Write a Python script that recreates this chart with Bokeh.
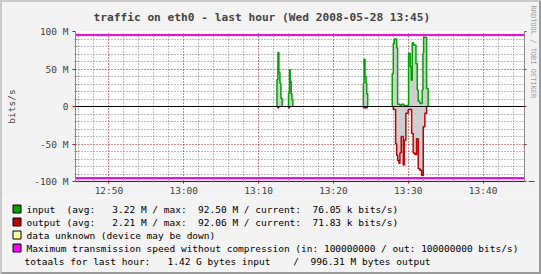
import re
from bokeh.plotting import figure
from bokeh.layouts import column
from bokeh.models import (Range1d, LinearAxis, FixedTicker, Grid, Span, Title,
                          Arrow, NormalHead, InlineStyleSheet)
from bokeh.core.properties import value
from bokeh.embed import file_html
from bokeh.resources import INLINE

# ---------------- data ----------------
title_text = "traffic on eth0 - last hour (Wed 2008-05-28 13:45)"
watermark = "RRDTOOL / TOBI OETIKER"
y_label = "bits/s"

# time axis in minutes after 12:00
x_start_min = 45.5333
x_end_min = 105.5333
x_ticks = [50, 60, 70, 80, 90, 100]
x_tick_labels = ["12:50", "13:00", "13:10", "13:20", "13:30", "13:40"]
x_minor = [m for m in range(46, 106, 2) if m % 10 != 0]

# value axis in M (base 1024)
y_ticks = [-100, -50, 0, 50, 100]
y_tick_labels = ["-100 M", "-50 M", "0", "50 M", "100 M"]
y_minor = [v for v in range(-90, 100, 10) if v % 50 != 0]

# input traffic (M bits/s), step values starting at in_t
in_t = [72.45, 72.58, 72.71, 72.85, 72.98, 73.15,
        74.00, 74.13, 74.22, 74.36, 74.45, 74.58,
        84.00, 84.09, 84.22, 84.36, 84.45, 84.58,
        87.86, 88.00, 88.13, 88.45, 88.58, 88.89, 89.11, 89.41,
        90.04, 90.26, 90.40, 90.53, 90.72, 91.03, 91.20, 91.33, 91.56,
        91.86, 91.96, 92.05, 92.45, 92.66]
in_v = [36, 72, 45.5, 31, 11, 0,
        18, 49.5, 33, 17, 9, 0,
        31, 63, 40, 31, 17, 0,
        44, 84, 90, 78, 3, 1.6, 3, 1.5,
        71, 53, 35, 85, 82, 57, 22, 7, 4,
        22, 71, 92.5, 24, 0]

# output traffic (M bits/s), drawn below zero
out_t = [72.56, 72.69, 74.00, 74.13, 84.00, 84.53,
         88.00, 88.31, 88.45, 88.58, 88.76, 88.89, 89.06, 89.33, 89.46, 89.68, 89.99,
         90.45, 90.66, 90.89, 91.11, 91.33, 91.56, 91.78, 92.00, 92.22, 92.45]
out_v = [1.5, 0, 1.5, 0, 1.5, 0,
         4, 49.5, 65, 72, 75.5, 62, 40, 78, 45, 9, 4,
         36, 62, 64, 43, 83, 85, 92.06, 27, 9, 0]

max_speed_bits = 100000000
max_speed_m = max_speed_bits / 1048576.0

legend_colors = ["#00a000", "#c00000", "#ffffa0", "#ff00ff"]
legend_texts = [
    "input  (avg:   3.22 M / max:  92.50 M / current:  76.05 k bits/s)",
    "output (avg:   2.21 M / max:  92.06 M / current:  71.83 k bits/s)",
    "data unknown (device may be down)",
    "Maximum transmission speed without compression (in: 100000000 / out: 100000000 bits/s)",
]
totals_text = "totaals for last hour:   1.42 G bytes input    /  996.31 M bytes output"

# ---------------- styles ----------------
FONT = "DejaVu Sans Mono"
GREEN = "#00a000"
RED = "#c00000"
FILL = "#cfcfcf"
BACK = "#f3f3f3"
W = 541
H_MAIN, H_LEG = 198, 76
FL, FR, FT, FB = 75, 525, 31, 181   # frame edges in the main figure


def keep_spaces(s):
    # SVG collapses runs of spaces; keep the monospaced column layout
    return re.sub(r" {2,}", lambda m: " " + "\u00a0" * (len(m.group()) - 1), s)


css_top = InlineStyleSheet(css="""
:host { position: relative; }
:host::after { content: ""; position: absolute; left: 0; top: 0; right: 0; bottom: 0;
  box-sizing: border-box; pointer-events: none; z-index: 10;
  border-left: 2px solid #cbcbcb; border-top: 2px solid #cbcbcb;
  border-right: 2px solid #9a9a9a; }
""")
css_bottom = InlineStyleSheet(css="""
:host { position: relative; }
:host::after { content: ""; position: absolute; left: 0; top: 0; right: 0; bottom: 0;
  box-sizing: border-box; pointer-events: none; z-index: 10;
  border-left: 2px solid #cbcbcb;
  border-right: 2px solid #9a9a9a; border-bottom: 2px solid #9a9a9a; }
""")

fig = figure(width=W, height=H_MAIN,
             x_range=Range1d(x_start_min, x_end_min), y_range=Range1d(-100, 100),
             output_backend="svg", toolbar_location=None,
             x_axis_type=None, y_axis_type=None,
             min_border_left=FL, min_border_right=W - FR, min_border_top=FT,
             min_border_bottom=H_MAIN - FB,
             background_fill_color="white", border_fill_color=BACK,
             outline_line_color=None, stylesheets=[css_top], frame_align=False)

yt = FixedTicker(ticks=y_ticks, minor_ticks=y_minor)
xt = FixedTicker(ticks=x_ticks, minor_ticks=x_minor)

# grids
fig.add_layout(Grid(dimension=1, ticker=yt, grid_line_color="#a02020", grid_line_dash="1 2",
                    minor_grid_line_color="#808080", minor_grid_line_dash="1 2"))
fig.add_layout(Grid(dimension=0, ticker=xt, grid_line_color="#a02020", grid_line_dash="1 2",
                    minor_grid_line_color="#808080", minor_grid_line_dash="1 2"))

# axes
yaxis = LinearAxis(ticker=yt, major_label_overrides=dict(zip(y_ticks, y_tick_labels)),
                   axis_label=y_label, axis_label_standoff=14,
                   axis_label_text_font=FONT, axis_label_text_font_style="normal",
                   axis_label_text_font_size="9.5px",
                   major_label_text_font=FONT, major_label_text_font_size="9.5px",
                   major_label_standoff=4, axis_line_color="#8a8a8a",
                   major_tick_out=3, major_tick_in=0, major_tick_line_color="#a02020",
                   minor_tick_out=1, minor_tick_in=2, minor_tick_line_color="#8a8a8a")
fig.add_layout(yaxis, "left")

xaxis = LinearAxis(ticker=xt, major_label_overrides=dict(zip(x_ticks, x_tick_labels)),
                   major_label_text_font=FONT, major_label_text_font_size="9.5px",
                   major_label_standoff=1, axis_line_color="#402020",
                   major_tick_out=2, major_tick_in=0, major_tick_line_color="#a02020",
                   minor_tick_out=1, minor_tick_in=2, minor_tick_line_color="#8a8a8a")
fig.add_layout(xaxis, "below")

raxis = LinearAxis(ticker=FixedTicker(ticks=y_ticks, minor_ticks=[]),
                   major_label_overrides={v: "" for v in y_ticks}, major_label_standoff=0,
                   axis_line_color="#8a8a8a", major_tick_out=2, major_tick_in=0,
                   major_tick_line_color="#a02020", minor_tick_out=0, minor_tick_in=0)
fig.add_layout(raxis, "right")


def split_runs(t, v):
    runs, xs, ys = [], [], []
    for ti, vi in zip(t, v):
        if not xs:
            if vi == 0:
                continue
            xs, ys = [ti], [0]
        xs.append(ti)
        ys.append(vi)
        if vi == 0:
            runs.append((xs, ys))
            xs, ys = [], []
    if xs:
        runs.append((xs, ys))
    return runs


# areas and lines
fig.varea_step(x=in_t, y1=[0] * len(in_v), y2=in_v, step_mode="after", fill_color=FILL)
fig.varea_step(x=out_t, y1=[-v for v in out_v], y2=[0] * len(out_v), step_mode="after",
               fill_color=FILL)
for xs, ys in split_runs(in_t, in_v):
    fig.step(x=xs, y=ys, mode="after", line_color=GREEN, line_width=1.5)
for xs, ys in split_runs(out_t, out_v):
    fig.step(x=xs, y=[-v for v in ys], mode="after", line_color=RED, line_width=1.5)

fig.add_layout(Span(location=0, dimension="width", line_color="black", line_width=1))
fig.add_layout(Span(location=max_speed_m, dimension="width", line_color="#ff00ff", line_width=2))
fig.add_layout(Span(location=-max_speed_m, dimension="width", line_color="#ff00ff", line_width=2))

fig.add_layout(Arrow(end=NormalHead(size=6, fill_color=None, line_color="red", line_width=1),
                     x_start=x_end_min, y_start=-100, x_end=x_end_min + 1.35, y_end=-100,
                     line_color="red", line_width=1))

# title and watermark
fig.add_layout(Title(text=title_text, text_font=FONT, text_font_size="11.2px",
                     text_font_style="bold", align="left", offset=18, standoff=15), "above")
fig.add_layout(Title(text=watermark, text_font=FONT, text_font_size="7px",
                     text_font_style="normal", text_color="#a0a0a0", align="left",
                     offset=-26, standoff=5), "right")

# ---------------- legend strip (pixel coordinates of this strip) ----------------
leg = figure(width=W, height=H_LEG, x_range=Range1d(0, W), y_range=Range1d(H_LEG, 0),
             output_backend="svg", toolbar_location=None,
             x_axis_type=None, y_axis_type=None,
             min_border_left=0, min_border_right=0, min_border_top=0, min_border_bottom=0,
             background_fill_color=BACK, border_fill_color=BACK,
             outline_line_color=None, stylesheets=[css_bottom], frame_align=False)
leg.grid.visible = False

row_c = [10.5, 23.5, 36.5, 49.5]
totals_c = 62.5
leg.quad(left=[12.5] * 4, right=[20.5] * 4,
         top=[c - 4 for c in row_c], bottom=[c + 4 for c in row_c],
         fill_color=legend_colors, line_color="black", line_width=1)
leg.text(x=[26] * 4, y=row_c, text=[keep_spaces(t) for t in legend_texts],
         text_font=value(FONT), text_font_size="9.5px", text_baseline="middle",
         text_align="left", text_color="black")
leg.text(x=[24], y=[totals_c], text=[keep_spaces(totals_text)], text_font=value(FONT),
         text_font_size="9.5px", text_baseline="middle", text_align="left",
         text_color="black")

p = column(fig, leg, spacing=0)

open("out.html", "w").write(file_html(p, INLINE))
